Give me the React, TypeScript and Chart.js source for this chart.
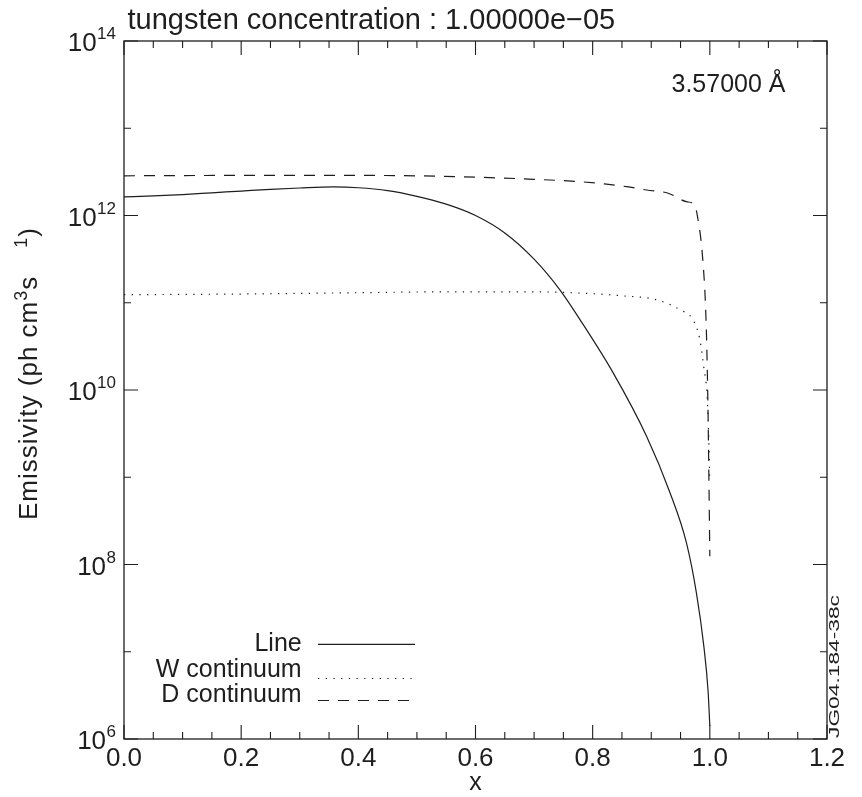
import React, { useEffect, useRef } from 'react';
import { Chart, registerables } from 'chart.js';

Chart.register(...registerables);

// ---- data ----
const lineX = [0, 0.05, 0.1, 0.15, 0.2, 0.25, 0.3, 0.357, 0.4, 0.45, 0.5, 0.55, 0.6, 0.65, 0.7, 0.745, 0.778, 0.835, 0.892, 0.932, 0.96, 0.977, 0.99, 0.997, 1.0];
const lineY = [1.633e12, 1.679e12, 1.738e12, 1.82e12, 1.905e12, 1.995e12, 2.065e12, 2.123e12, 2.08e12, 1.928e12, 1.66e12, 1.349e12, 1.0e12, 6.31e11, 3.16e11, 1.38e11, 6.46e10, 1.57e10, 2.95e9, 6.65e8, 1.782e8, 4.76e7, 1.122e7, 3.55e6, 1.41e6];

const wContX = [0, 0.2, 0.4, 0.55, 0.7, 0.778, 0.85, 0.909, 0.949, 0.971, 0.983, 0.9895, 0.995, 0.9975, 1.0];
const wContY = [1.236e11, 1.259e11, 1.303e11, 1.334e11, 1.334e11, 1.291e11, 1.202e11, 1.081e11, 8.32e10, 6.38e10, 3.78e10, 1.86e10, 9.3e9, 3.85e9, 8.9e8];

const dContX = [0, 0.1, 0.2, 0.3, 0.4, 0.5, 0.6, 0.7, 0.778, 0.82, 0.858, 0.892, 0.929, 0.96, 0.974, 0.979, 0.988, 0.9935, 0.9964, 0.998, 1.0];
const dContY = [2.85e12, 2.87e12, 2.88e12, 2.88e12, 2.88e12, 2.85e12, 2.75e12, 2.6e12, 2.44e12, 2.3e12, 2.14e12, 1.96e12, 1.8e12, 1.44e12, 1.32e12, 9.7e11, 3.1e11, 6.4e10, 9.3e9, 1.6e9, 1.24e8];

const xTickValues = [0, 0.2, 0.4, 0.6, 0.8, 1.0, 1.2];
const xTickLabels = ['0.0', '0.2', '0.4', '0.6', '0.8', '1.0', '1.2'];
const xMinorStep = 0.05;
const yMajorExponents = [6, 8, 10, 12, 14];
const yMinorExponents = [7, 9, 11, 13];
const legendLabels = ['Line', 'W continuum', 'D continuum'];
const titleText = 'tungsten concentration : 1.00000e\u221205';
const wavelengthText = '3.57000 \u00c5';
const xAxisTitle = 'x';
const yAxisTitleMain = 'Emissivity (ph cm';
const yAxisTitleSup1 = '3';
const yAxisTitleMid = 's';
const yAxisTitleSup2 = '1';
const yAxisTitleEnd = ')';
const figureId = 'JG04.184-38c';

// ---- styles ----
const INK = '#1e1e1e';
const FONT = '"Liberation Sans", Arial, Helvetica, sans-serif';
const SOLID: number[] = [];
const DOTTED = [1.3, 6.4];
const DASHED = [11, 9];
const styles = [SOLID, DOTTED, DASHED];

const toPoints = (xs: number[], ys: number[]) => xs.map((x, i) => ({ x, y: ys[i] }));

const overlayPlugin = {
  id: 'overlay',
  afterDraw(chart: any) {
    const { ctx, chartArea: a, scales } = chart;
    const xs = scales.x;
    const ys = scales.y;
    ctx.save();
    ctx.strokeStyle = INK;
    ctx.fillStyle = INK;
    ctx.setLineDash([]);
    ctx.lineWidth = 1.3;
    ctx.strokeRect(a.left, a.top, a.right - a.left, a.bottom - a.top);

    // x ticks (inward, bottom and top)
    ctx.lineWidth = 1.1;
    const nMinor = Math.round((xs.max - xs.min) / xMinorStep);
    for (let i = 0; i <= nMinor; i++) {
      const v = xs.min + i * xMinorStep;
      const px = xs.getPixelForValue(v);
      const len = i % 4 === 0 ? 14 : 7;
      ctx.beginPath();
      ctx.moveTo(px, a.bottom);
      ctx.lineTo(px, a.bottom - len);
      ctx.moveTo(px, a.top);
      ctx.lineTo(px, a.top + len);
      ctx.stroke();
    }
    // y ticks (inward, left and right)
    const yTick = (e: number, len: number) => {
      const py = ys.getPixelForValue(Math.pow(10, e));
      ctx.beginPath();
      ctx.moveTo(a.left, py);
      ctx.lineTo(a.left + len, py);
      ctx.moveTo(a.right, py);
      ctx.lineTo(a.right - len, py);
      ctx.stroke();
    };
    yMajorExponents.forEach((e) => yTick(e, 14));
    yMinorExponents.forEach((e) => yTick(e, 7));

    // x tick labels
    ctx.font = `26px ${FONT}`;
    ctx.textAlign = 'center';
    ctx.textBaseline = 'alphabetic';
    xTickValues.forEach((v, i) => {
      ctx.fillText(xTickLabels[i], xs.getPixelForValue(v), 766);
    });

    // y tick labels 10^n
    const labelRight = a.left - 8;
    yMajorExponents.forEach((e) => {
      const py = ys.getPixelForValue(Math.pow(10, e));
      ctx.textAlign = 'right';
      ctx.font = `17px ${FONT}`;
      const sup = String(e);
      const supW = ctx.measureText(sup).width;
      ctx.fillText(sup, labelRight, py - 2);
      ctx.font = `26px ${FONT}`;
      ctx.fillText('10', labelRight - supW - 0.5, py + 10);
    });

    // title
    ctx.textAlign = 'left';
    ctx.font = `29px ${FONT}`;
    ctx.fillText(titleText, 127.5, 29);

    // wavelength annotation
    ctx.font = `25px ${FONT}`;
    ctx.fillText(wavelengthText, 671.5, 92);

    // x-axis title
    ctx.textAlign = 'center';
    ctx.fillText(xAxisTitle, (a.left + a.right) / 2, 790);

    // y-axis title (rotated, with superscripts)
    ctx.save();
    ctx.translate(37, 520);
    ctx.rotate(-Math.PI / 2);
    ctx.textAlign = 'left';
    try { (ctx as any).letterSpacing = '1px'; } catch (e) { /* ignore */ }
    let cx = 0;
    const piece = (t: string, size: number, rise: number) => {
      ctx.font = `${size}px ${FONT}`;
      ctx.fillText(t, cx, -rise);
      cx += ctx.measureText(t).width;
    };
    piece(yAxisTitleMain, 26, 0);
    piece(yAxisTitleSup1, 18, 10);
    piece(yAxisTitleMid, 26, 0);
    cx += 28;
    piece(yAxisTitleSup2, 18, 10);
    piece(yAxisTitleEnd, 26, 0);
    try { (ctx as any).letterSpacing = '0px'; } catch (e) { /* ignore */ }
    ctx.restore();

    // legend
    const legendRight = 301.7;
    const legendBase = [650.7, 676.6, 701.7];
    const sampleY = [644.3, 678.5, 700.5];
    legendLabels.forEach((lab, i) => {
      ctx.font = `25px ${FONT}`;
      ctx.textAlign = 'right';
      ctx.fillText(lab, legendRight, legendBase[i]);
      ctx.beginPath();
      ctx.lineWidth = 1.2;
      ctx.setLineDash(styles[i]);
      ctx.moveTo(318, sampleY[i]);
      ctx.lineTo(415, sampleY[i]);
      ctx.stroke();
    });
    ctx.setLineDash([]);

    // figure id, rotated, at the right edge
    ctx.save();
    ctx.translate(839, 738);
    ctx.rotate(-Math.PI / 2);
    ctx.font = `14px ${FONT}`;
    ctx.textAlign = 'left';
    const w = ctx.measureText(figureId).width;
    ctx.scale(143 / w, 1);
    ctx.fillText(figureId, 0, 0);
    ctx.restore();

    ctx.restore();
  },
};

export default function App() {
  const ref = useRef<HTMLCanvasElement | null>(null);
  useEffect(() => {
    if (!ref.current) return;
    const common = {
      borderColor: INK,
      borderWidth: 1.2,
      pointRadius: 0,
      fill: false,
      cubicInterpolationMode: 'monotone' as const,
    };
    const chart = new Chart(ref.current, {
      type: 'line',
      data: {
        datasets: [
          { ...common, label: legendLabels[0], data: toPoints(lineX, lineY), borderDash: SOLID },
          { ...common, label: legendLabels[1], data: toPoints(wContX, wContY), borderDash: DOTTED },
          { ...common, label: legendLabels[2], data: toPoints(dContX, dContY), borderDash: DASHED },
        ],
      },
      options: {
        responsive: false,
        animation: false,
        devicePixelRatio: 1,
        layout: { padding: { left: 124, top: 41, right: 35, bottom: 58 } },
        plugins: { legend: { display: false }, title: { display: false }, tooltip: { enabled: false } },
        events: [],
        scales: {
          x: { type: 'linear', min: 0, max: 1.2, display: false },
          y: { type: 'logarithmic', min: 1e6, max: 1e14, display: false },
        },
      },
      plugins: [overlayPlugin],
    });
    return () => chart.destroy();
  }, []);
  return (
    <div style={{ position: 'absolute', left: 0, top: 0, width: 862, height: 797, background: '#fff' }}>
      <canvas ref={ref} width={862} height={797} style={{ display: 'block' }} />
    </div>
  );
}
